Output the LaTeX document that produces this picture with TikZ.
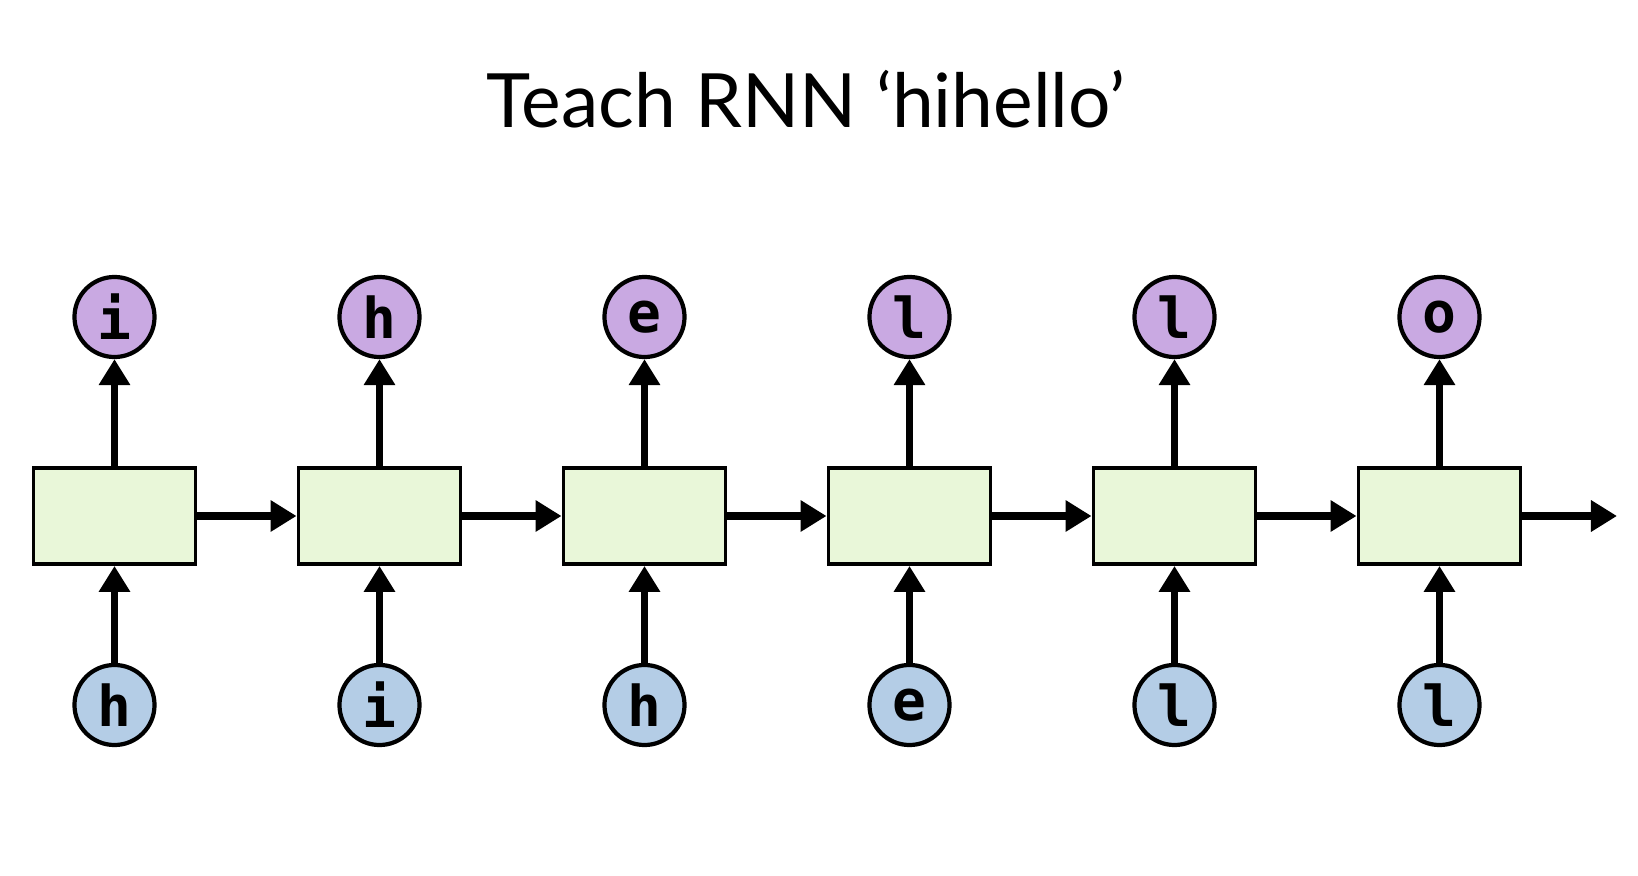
\documentclass[tikz,border=0pt]{standalone}
\usepackage{fontspec}
\setmainfont{Lato}
\newfontfamily\charfont{DejaVu Sans Mono}
\usetikzlibrary{arrows.meta}
\definecolor{cellgreen}{RGB}{233,247,217}
\definecolor{outpurple}{RGB}{201,169,226}
\definecolor{inblue}{RGB}{180,205,230}
\begin{document}
\begin{tikzpicture}[x=0.01cm,y=-0.01cm,
  cell/.style={draw,rectangle,fill=cellgreen,line width=1.1pt,minimum width=1.62cm,minimum height=0.96cm,inner sep=0pt},
  outchar/.style={draw,circle,fill=outpurple,line width=1.2pt,minimum size=0.8cm,inner sep=0pt,font=\charfont\bfseries\fontsize{16}{19}\selectfont},
  inchar/.style={draw,circle,fill=inblue,line width=1.2pt,minimum size=0.8cm,inner sep=0pt,font=\charfont\bfseries\fontsize{16}{19}\selectfont},
  flow/.style={line width=2pt,-{Triangle[length=0.26cm,width=0.3cm]}}]
\useasboundingbox[fill=white] (0,0) rectangle (1638,876);
\node[anchor=base,font=\fontsize{21.3}{26}\selectfont] (title) at (806,128) {Teach RNN ‘hihello’};
\node[cell] (C1) at (114.5,516) {};
\node[cell] (C2) at (379.5,516) {};
\node[cell] (C3) at (644.5,516) {};
\node[cell] (C4) at (909.5,516) {};
\node[cell] (C5) at (1174.5,516) {};
\node[cell] (C6) at (1439.5,516) {};
\node[outchar] (O1) at (114.5,317) {i};
\node[outchar] (O2) at (379.5,317) {h};
\node[outchar] (O3) at (644.5,317) {e};
\node[outchar] (O4) at (909.5,317) {l};
\node[outchar] (O5) at (1174.5,317) {l};
\node[outchar] (O6) at (1439.5,317) {o};
\node[inchar] (I1) at (114.5,705) {h};
\node[inchar] (I2) at (379.5,705) {i};
\node[inchar] (I3) at (644.5,705) {h};
\node[inchar] (I4) at (909.5,705) {e};
\node[inchar] (I5) at (1174.5,705) {l};
\node[inchar] (I6) at (1439.5,705) {l};
\coordinate (E) at (1617,516);
\draw[flow] (C1.east) -- (C2.west);
\draw[flow] (C2.east) -- (C3.west);
\draw[flow] (C3.east) -- (C4.west);
\draw[flow] (C4.east) -- (C5.west);
\draw[flow] (C5.east) -- (C6.west);
\draw[flow] (C6.east) -- (E);
\draw[flow] (C1.north) -- (O1.south);
\draw[flow] (C2.north) -- (O2.south);
\draw[flow] (C3.north) -- (O3.south);
\draw[flow] (C4.north) -- (O4.south);
\draw[flow] (C5.north) -- (O5.south);
\draw[flow] (C6.north) -- (O6.south);
\draw[flow] (I1.north) -- (C1.south);
\draw[flow] (I2.north) -- (C2.south);
\draw[flow] (I3.north) -- (C3.south);
\draw[flow] (I4.north) -- (C4.south);
\draw[flow] (I5.north) -- (C5.south);
\draw[flow] (I6.north) -- (C6.south);
\end{tikzpicture}
\end{document}
